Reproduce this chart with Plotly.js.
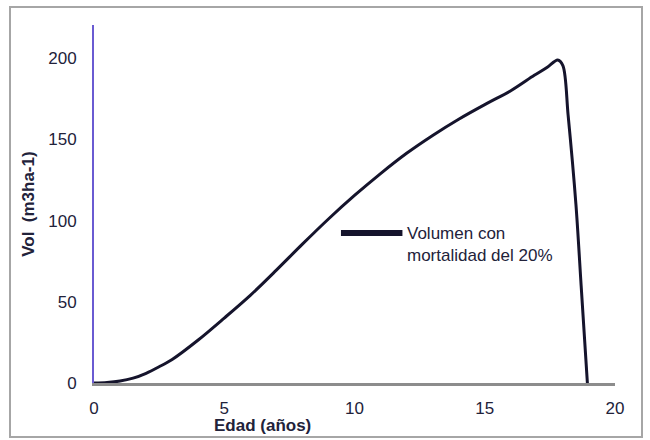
<!DOCTYPE html>
<html>
<head>
<meta charset="utf-8">
<script src="https://cdn.plot.ly/plotly-3.0.1.min.js"></script>
<style>
  html, body { margin: 0; padding: 0; background: #ffffff; }
  #wrap { position: relative; width: 650px; height: 440px; }
  #chart { position: absolute; left: 0; top: 0; width: 650px; height: 440px; }
  #frame { position: absolute; left: 9px; top: 6px; width: 634px; height: 432px;
           border: 2px solid #a6a6a6; pointer-events: none; box-sizing: border-box; }
</style>
</head>
<body>
<div id="wrap">
  <div id="chart"></div>
  <div id="frame"></div>
</div>
<script>
// Age (years)
const edad = [0, 0.5, 1, 1.5, 2, 2.5, 3, 4, 5, 6, 7, 8, 9, 10, 11, 12, 13, 14, 15, 16, 16.9, 17.4, 17.8, 18.0, 18.2, 18.5, 18.7, 18.94];
// Volume with 20% mortality (m3/ha)
const volumen = [0, 0.3, 1.2, 3, 6, 10, 14.5, 26.5, 40, 54, 69.5, 85.5, 101, 115.5, 129, 141.5, 152.5, 162.5, 171.5, 180, 189.5, 194.5, 199, 195.5, 165, 110, 60, 0];

const xTickVals = [0, 5, 10, 15, 20];
const yTickVals = [0, 50, 100, 150, 200];
const seriesName = "Volumen con<br>mortalidad del 20%";
const xTitle = "Edad (años)";
const yTitle = "Vol\u00a0 (m3ha-1)";

const FONT = "Liberation Sans, Arial, sans-serif";
const TXT = "#22223a";

const trace = {
  x: edad,
  y: volumen,
  type: "scatter",
  mode: "lines",
  name: seriesName,
  line: { color: "#15142c", width: 3, shape: "spline", smoothing: 0.9 },
  showlegend: false,
  hoverinfo: "x+y"
};

const layout = {
  width: 650,
  height: 440,
  margin: { l: 94, r: 35, t: 25, b: 57 },
  paper_bgcolor: "#ffffff",
  plot_bgcolor: "#ffffff",
  showlegend: false,
  font: { family: FONT, size: 17, color: TXT },
  xaxis: {
    range: [0, 20],
    tickvals: xTickVals,
    ticktext: xTickVals.map(String),
    showgrid: false,
    zeroline: false,
    showline: true,
    linecolor: "#8c8c8c",
    linewidth: 2.5,
    ticks: "",
    ticklabelstandoff: 8,
    tickfont: { family: FONT, size: 17, color: TXT }
  },
  yaxis: {
    range: [0, 220.5],
    tickvals: yTickVals,
    ticktext: yTickVals.map(String),
    showgrid: false,
    zeroline: false,
    showline: true,
    linecolor: "#6a5bd2",
    linewidth: 2,
    ticks: "",
    ticklabelstandoff: 12,
    tickfont: { family: FONT, size: 17, color: TXT }
  },
  shapes: [
    { type: "line", xref: "paper", yref: "paper",
      x0: 0.474, x1: 0.592, y0: 0.419, y1: 0.419,
      line: { color: "#15142c", width: 6 } }
  ],
  annotations: [
    { text: seriesName, xref: "paper", yref: "paper", x: 0.597, y: 0.387,
      xanchor: "left", yanchor: "middle", align: "left", showarrow: false,
      font: { family: FONT, size: 17, color: TXT } },
    { text: "<b>" + xTitle + "</b>", xref: "paper", yref: "paper", x: 0.324, y: -0.12,
      xanchor: "center", yanchor: "middle", showarrow: false,
      font: { family: FONT, size: 17, color: TXT } },
    { text: "<b>" + yTitle + "</b>", xref: "paper", yref: "paper", x: -0.127, y: 0.5,
      xanchor: "center", yanchor: "middle", textangle: -90, showarrow: false,
      font: { family: FONT, size: 17, color: TXT } }
  ]
};

Plotly.newPlot("chart", [trace], layout, { staticPlot: true, displayModeBar: false });
</script>
</body>
</html>
